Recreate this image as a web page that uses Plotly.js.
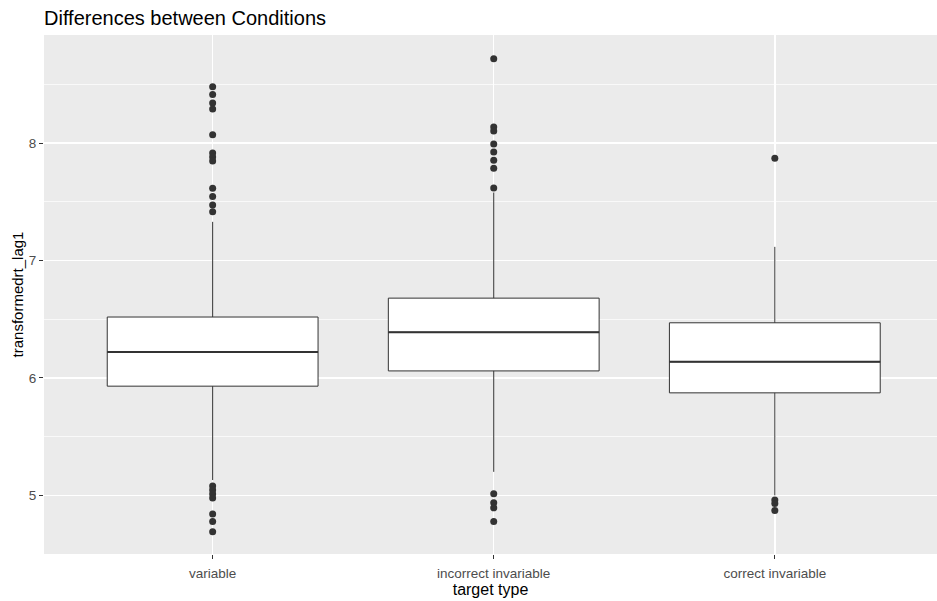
<!DOCTYPE html>
<html>
<head>
<meta charset="utf-8">
<script src="https://cdn.plot.ly/plotly-3.0.1.min.js"></script>
<style>html,body{margin:0;padding:0;background:#fff;}#chart{width:937px;height:601px;}</style>
</head>
<body>
<div id="chart"></div>
<script>
// Categories (tick labels)
const categories = ["variable", "incorrect invariable", "correct invariable"];
// Box statistics per category
const q1Values = [5.93, 6.06, 5.873];
const medianValues = [6.221, 6.39, 6.137];
const q3Values = [6.519, 6.68, 6.47];
const lowerFenceValues = [5.13, 5.2, 5.0];
const upperFenceValues = [7.33, 7.58, 7.117];
// Outliers per category
const outliersVariable = [8.482, 8.414, 8.343, 8.292, 8.073, 7.917, 7.883, 7.849, 7.617, 7.545, 7.474, 7.415,
                          5.08, 5.046, 5.012, 4.978, 4.84, 4.777, 4.69];
const outliersIncorrect = [8.72, 8.139, 8.105, 7.994, 7.926, 7.855, 7.787, 7.619,
                           5.013, 4.936, 4.893, 4.777];
const outliersCorrect = [7.872, 4.96, 4.93, 4.87];
const outlierSets = [outliersVariable, outliersIncorrect, outliersCorrect];

const boxWidth = 0.75;
const idx = categories.map((c, i) => i);
const traces = [];

traces.push({
  type: 'box',
  x: idx,
  q1: q1Values,
  median: medianValues,
  q3: q3Values,
  lowerfence: lowerFenceValues,
  upperfence: upperFenceValues,
  width: boxWidth,
  whiskerwidth: 0,
  fillcolor: '#ffffff',
  line: {color: '#333333', width: 1},
  boxpoints: false,
  hoverinfo: 'skip',
  showlegend: false
});

// thicker median lines like ggplot
idx.forEach(i => {
  traces.push({
    type: 'scatter', mode: 'lines',
    x: [i - boxWidth / 2, i + boxWidth / 2],
    y: [medianValues[i], medianValues[i]],
    line: {color: '#333333', width: 2},
    hoverinfo: 'skip', showlegend: false
  });
});

idx.forEach(i => {
  traces.push({
    type: 'scatter', mode: 'markers',
    x: outlierSets[i].map(() => i),
    y: outlierSets[i],
    marker: {color: '#333333', size: 7},
    hoverinfo: 'skip', showlegend: false
  });
});

const layout = {
  width: 937, height: 601,
  margin: {l: 44, r: 0, t: 35, b: 47},
  paper_bgcolor: '#ffffff',
  plot_bgcolor: '#ebebeb',
  font: {family: 'Liberation Sans, Arial, sans-serif', color: '#4d4d4d'},
  title: {text: 'Differences between Conditions', x: 0, xref: 'paper', xanchor: 'left',
          y: 0.970, yref: 'container', yanchor: 'middle',
          font: {size: 20, color: '#000000', family: 'Liberation Sans, Arial, sans-serif'}},
  xaxis: {
    range: [-0.6, 2.577],
    tickmode: 'array', tickvals: idx, ticktext: categories,
    showgrid: true, gridcolor: '#ffffff', gridwidth: 1.5,
    zeroline: false, showline: false,
    ticks: 'outside', ticklen: 4, tickcolor: '#333333', tickwidth: 1,
    ticklabelstandoff: 3,
    tickfont: {size: 13.5, color: '#4d4d4d'},
    title: {text: 'target type', font: {size: 16, color: '#000000'}, standoff: 3}
  },
  yaxis: {
    range: [4.5, 8.922],
    tickmode: 'array', tickvals: [5, 6, 7, 8], ticktext: ['5', '6', '7', '8'],
    showgrid: true, gridcolor: '#ffffff', gridwidth: 1.5,
    minor: {tickmode: 'array', tickvals: [4.5, 5.5, 6.5, 7.5, 8.5], showgrid: true, gridcolor: '#ffffff', gridwidth: 0.7, ticks: ''},
    zeroline: false, showline: false,
    ticks: 'outside', ticklen: 4, tickcolor: '#333333', tickwidth: 1,
    tickfont: {size: 13.5, color: '#4d4d4d'},
    title: {text: 'transformedrt_lag1', font: {size: 15, color: '#000000'}, standoff: 1}
  }
};

Plotly.newPlot('chart', traces, layout, {displayModeBar: false, staticPlot: true});
</script>
</body>
</html>
